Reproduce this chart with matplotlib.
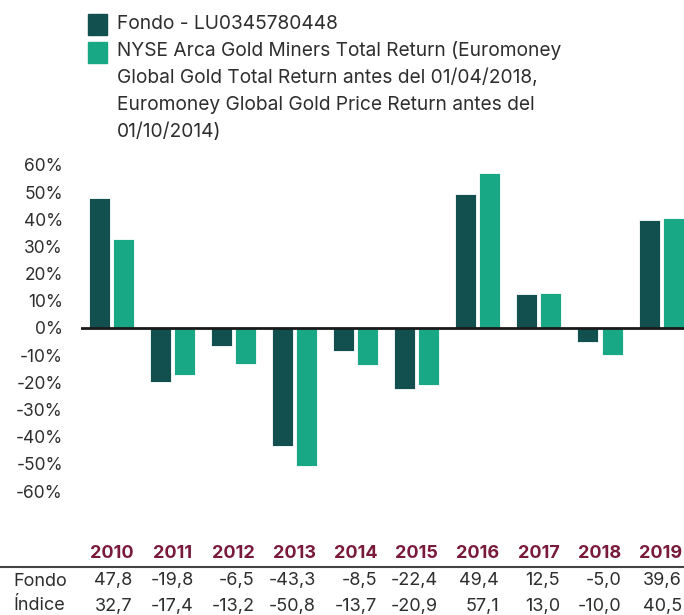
import numpy as np
import matplotlib.pyplot as plt
from matplotlib.patches import Rectangle
from matplotlib.transforms import blended_transform_factory

# datos
anios = ['2010', '2011', '2012', '2013', '2014', '2015', '2016', '2017', '2018', '2019']
fondo = [47.8, -19.8, -6.5, -43.3, -8.5, -22.4, 49.4, 12.5, -5.0, 39.6]
indice = [32.7, -17.4, -13.2, -50.8, -13.7, -20.9, 57.1, 13.0, -10.0, 40.5]
nombre_fondo = 'Fondo - LU0345780448'
nombre_indice = ('NYSE Arca Gold Miners Total Return (Euromoney\n'
                 'Global Gold Total Return antes del 01/04/2018,\n'
                 'Euromoney Global Gold Price Return antes del\n'
                 '01/10/2014)')
filas = ['Fondo', 'Índice']

C_FONDO = '#124f4f'
C_INDICE = '#18a886'
C_ANIO = '#7a1a3a'
C_TEXTO = '#2e2e2e'

plt.rcParams['font.family'] = ['Inter', 'DejaVu Sans']

W, H = 684, 615
fig = plt.figure(figsize=(W / 100, H / 100), dpi=100)

# eje: 0% en y=328px, 10% = 27.17px
px10 = 27.17
top = 328 - 6.5 * px10
bot = 328 + 7.0 * px10
ax = fig.add_axes([81 / W, 1 - bot / H, 1 - 81 / W, (bot - top) / H])
ax.set_ylim(-70, 65)
ax.set_xlim(-0.5, 9.376)

x = np.arange(len(anios))
ancho = 0.344
ax.bar(x - 0.197, fondo, ancho, color=C_FONDO, edgecolor='white', linewidth=0.6)
ax.bar(x + 0.197, indice, ancho, color=C_INDICE, edgecolor='white', linewidth=0.6)
ax.axhline(0, color='#1a1a1a', lw=2)

for s in ax.spines.values():
    s.set_visible(False)
ax.set_xticks([])
ticks = np.arange(-60, 61, 10)
ax.set_yticks(ticks)
ax.set_yticklabels(['%d%%' % t for t in ticks], fontsize=12.5, color=C_TEXTO)
ax.tick_params(axis='y', length=0, pad=13)

# tabla bajo el grafico
tr = blended_transform_factory(ax.transData, fig.transFigure)
for i, a in enumerate(anios):
    fig.text(x[i], 1 - 553 / H, a, transform=tr, ha='center', va='center',
             fontsize=13, color=C_ANIO, fontweight='bold')
    fig.text(x[i] + 0.345, 1 - 581 / H, ('%.1f' % fondo[i]).replace('.', ','),
             transform=tr, ha='right', va='center', fontsize=13, color=C_TEXTO)
    fig.text(x[i] + 0.345, 1 - 606 / H, ('%.1f' % indice[i]).replace('.', ','),
             transform=tr, ha='right', va='center', fontsize=13, color=C_TEXTO)
fig.text(13 / W, 1 - 581 / H, filas[0], ha='left', va='center', fontsize=13, color=C_TEXTO)
fig.text(13 / W, 1 - 606 / H, filas[1], ha='left', va='center', fontsize=13, color=C_TEXTO)
fig.add_artist(plt.Line2D([0, 1], [1 - 567 / H, 1 - 567 / H], color='#444444', lw=1.5))

# leyenda
fig.patches.append(Rectangle((88 / W, 1 - 35 / H), 19 / W, 21 / H, color=C_FONDO,
                             transform=fig.transFigure, figure=fig))
fig.patches.append(Rectangle((88 / W, 1 - 63 / H), 19 / W, 21 / H, color=C_INDICE,
                             transform=fig.transFigure, figure=fig))
fig.text(117 / W, 1 - 24 / H, nombre_fondo, ha='left', va='center', fontsize=13.8, color=C_TEXTO)
fig.text(117 / W, 1 - 41 / H, nombre_indice, ha='left', va='top', fontsize=13.8,
         color=C_TEXTO, linespacing=1.6)

fig.savefig('out.png', dpi=100)
